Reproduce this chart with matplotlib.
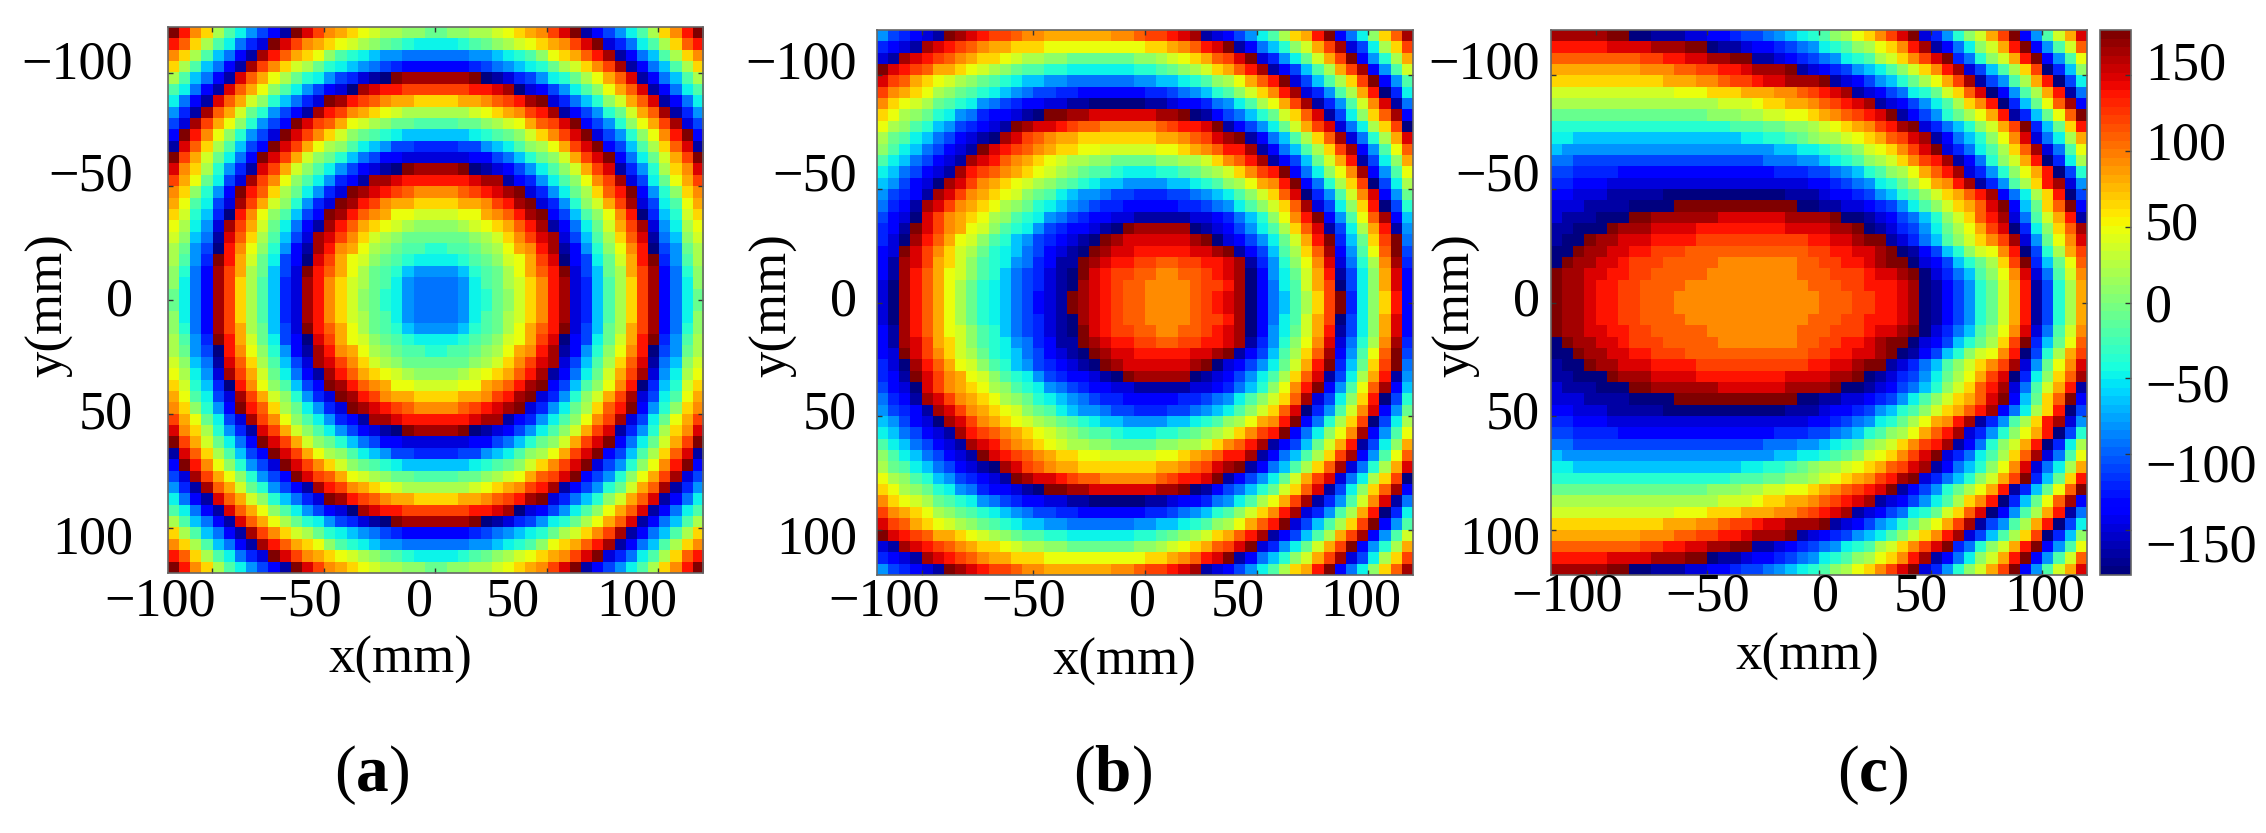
import numpy as np
import matplotlib
matplotlib.use("Agg")
import matplotlib.pyplot as plt

plt.rcParams['font.family'] = ['Liberation Serif', 'DejaVu Serif']
plt.rcParams['mathtext.fontset'] = 'custom'
plt.rcParams['mathtext.rm'] = 'Liberation Serif'
plt.rcParams['mathtext.bf'] = 'Liberation Serif:bold'

W, H = 2266, 833

# phase cells, one letter per cell: a = -180 deg ... z = +180 deg
# (a) is symmetric both ways, only the top left quadrant is listed
phase_a_quadrant = [
    "zwtroljhfd bzxvtsrqpo onnm",
    "wuroljgecz xvtsrqponm lkjj",
    "troligdbyw usrqnlkjih hggg",
    "roligdbyvt rpomkjihgf eddd",
    "oligdbxusq omkjhfecba zyyy",
    "ljgdbxusqn ljhfdcayxw wvvv",
    "jgdbxuspnk igeczywvut ssrr",
    "hebyuspmkh fdbywvtsrq pooo",
    "fcyvsqnkhf dzxvusqpon mmll",
    "dzwtqnkhfc zxvtrpnmlk jiii",
    "bxurolifdz xvsqonljih ffee",
    "zvspmjgdzx vspnmkigfd dccc",
    "xtrokhebxv spnljhfdcb azyy",
    "vsqmjfcyvt qnljhedbyy xwww",
    "trnkhdzwur omjheczyxw vutt",
    "sqljfcyvsp nkheczywvt ssrr",
    "rpkieawtqn lifdzywuts qqpp",
    "qojhcyvspm jgdbywusrq ponn",
    "pnigbxurol ifcyxvtrpo nmmm",
    "omhfawtqnk hdbywtsqon mllk",
    "olhezwspmj fdaxvsqpnm lkjj",
    "nkgdyvsomi fczwusqoml kihh",
    "njgdyvroli ecywtrpoml jhgg",
    "mjgdyvroli ecywtrpnmk jhgg",
]

# (b) and (c) mirror top to bottom, only the top half is listed
phase_b_top = [
    "hfedcbzyxw vvuttsssss sttuvvwxyb cdfhjlorsw zdgjnruy",
    "edcbyxwvut ssrrrqqqqq qqqqrrstuw xzbdgiknps vycfjorv",
    "cbyxwvutsr rqpoonnmmm mmmnnopqrs uvxzcehjmp svzdhkos",
    "zxwvussrqp onmllkkjjj jjjkklmnop rsuwybdfil osvydhlp",
    "xvusrqponm lkjiihhggg ggghhiijkl noqsuwzcfi lorvzdhl",
    "vtsrqonmlk jihgffeedd ddddeefghi klnprtwyce hloswaej",
    "trqpomlkjh gfeddccbba aaaabbcdde ghjloqsvyb ehlptxbg",
    "rqonmkjhge ddcbazzyyx xxxxxyyzab dfgikmprux bfjnruyd",
    "qonlkihfed cbzyxxwvuu tttttuvwwx zbdfhjmpsv xcgjorva",
    "omljigfdcb ayxvutssrr rrrrrsstuv xyzbdgilor uycgkosx",
    "nljigfdcbz xwvutsrrqq pppppqqrst uwwybdgilo rvydhlqu",
    "ljigfdcbyx wutsrqpoon nmmmmnnoop rtuwybdfim pswbfjns",
    "jigfdcbywv utsrqponml lkjjjkklmn oprtvwzdgj nqtydhlq",
    "ihfdcayxvt srqponmlkj iihhhhiijk lnoqstwzdg korvafjo",
    "hfedbyxvts rqpnmljihh gffeeeffgh ijlnpruxae hlptxdhm",
    "gedbyxvtsr qonmkjihgf eedddddeef ghjlnpruyc fjnrwafk",
    "fdcaxvtsrq onlkjhgfed dccbbbbbcc degiknqtwz dhlquydi",
    "edbzxvtsqp nlkjhfeddc bazyyyyyab cdfhjlorux bfjoswbh",
    "ecaywusqpn lkihfedcba zyxxxxxxyz acdfhjmpsw zeimrvzg",
    "dczxvtrpom kjigfdcbaz yxxwwwwwxx yzbdfiloru ydhlquzf",
    "dbyxvsrpnl kjhgedbbzy xwwvvuuvvw wxybehknqt xcgkotye",
    "dbywusqpnl kigfecbazx wvvuuttuuv wxyadhjmps wbfjnsxd",
    "caywusqomk jigfecbayx wvuuttttuv vwyadgjlps vafjnsxd",
    "caywusqomk jigfdcbzyx wvuuttttuv wxyadgilor vzejnrwd",
]

phase_c_top = [
    "yyyyyzzaab bbccddeffg hijklnoqrt vxzcehknps vzdhlpsx",
    "wwwwwxxxxy yyzzabbcdd efghjklnoq rtwybdgjnp swzdhlpu",
    "uuuuuuuuvv wwxxyyzzbb cdefghjklo prtvxzegkn pswzdhlq",
    "sssssssstt tuuvvwwxyy yzbcdefhij lnprtwycfi lorvaein",
    "rrrrrrrrrr sssttuvvwx xyyyzbcdfh ikmoqsvybf hloswafj",
    "pppppppppp pqqqrrrsss ttuvwxybcd fgjkmpruxa dhloswbg",
    "oooooooooo ooooopppqr rsstuvwxyb cdfhjlortw aeimquyd",
    "mmmmmmmmmm mmmmnnnoop pqqrstuvwx zbdfhkmoqs wbeimquz",
    "kkkkkkkkkk kkkkkklllm mnnopqrstv wyzcegiknp svzeimrw",
    "jjiiiiiiii iiiiiiijjk klmnoopqrs uvxybdgikn qtxcgjos",
    "ihhhhhhhhh hhhhhhhhhh iijjklmnpq rtvxzcegjl oruycglq",
    "ggffffffff fffffffffg gghhijklno prtvwybdgk npswaejo",
    "ffeeeedddd dddddddddd eeeffghikl noqsuwyceh knqswafk",
    "eedddccccc cccccccccc cccddefghj kmoqstwybe hlorwych",
    "ddcccbbbbb aaaaaaaaaa abbbcddefh iklnprsuwy dgjorwaf",
    "cccbbbbaaa azzzzzzzzz zzaabbccde fhjlnprsux zdimruzd",
    "cbbbaaazzy yyyyyxxxxx xyyyyzaabc dfgiknpruw ycglpswb",
    "bbaaazyyyx xxxwwwwwww wxxxxyyzab cefhjmoqsv xaejnruy",
    "baazyyxxxw wwwvvvvvvv vvvwwxxyzz bcegilnprt vychmqtx",
    "aazyyxxwwv vvuuuuuuuu uuuvvwwxxy zabdfiknpq twafkosv",
    "azyyxxwvvv uuuuuttttt ttuuvvwwxy zzacdfikmo rvzeimqu",
    "zyyxxwwvvu uuuutttttt ttuuuvvvwx xyzacegiln qtxcglpt",
    "zyyxwwvvuu uutttttttt tttuuuvvww wxyabdfhkm pswbfkos",
    "zyyxwwvvuu uttttttttt ttttuuuvvw wxyabdfhkm pswbfkos",
]

ticks = [-100, -50, 0, 50, 100]
tick_labels = ['\u2212100', '\u221250', '0', '50', '100']
cbar_ticks = [150, 100, 50, 0, -50, -100, -150]
cbar_labels = ['150', '100', '50', '0', '\u221250', '\u2212100', '\u2212150']
panel_names = ['a', 'b', 'c']


def decode(rows):
    return np.array([[-180 + 14.4 * (ord(c) - ord('a')) for c in r.replace(' ', '')] for r in rows])


top_left = decode(phase_a_quadrant)
phase_a = np.vstack([np.hstack([top_left, top_left[:, ::-1]]),
                     np.hstack([top_left, top_left[:, ::-1]])[::-1]])
phase_b = np.vstack([decode(phase_b_top), decode(phase_b_top)[::-1]])
phase_c = np.vstack([decode(phase_c_top), decode(phase_c_top)[::-1]])


def add_axes_px(left, top, right, bottom):
    return fig.add_axes([left / W, 1 - bottom / H, (right - left) / W, (bottom - top) / H])


def text_px(x, y, s, **kw):
    return fig.text(x / W, 1 - y / H, s, va='center', **kw)


fig = plt.figure(figsize=(W / 100, H / 100), dpi=100)
cmap = plt.get_cmap('jet', 64)

boxes = [(167.5, 27, 703, 573), (877, 30, 1413, 575), (1551, 30, 2087, 575)]
xlabel_pos = [[160, 300, 419, 513, 637], [884, 1024, 1143, 1238, 1361], [1567, 1708, 1826, 1921, 2045]]
xlabel_y = [602, 602, 597]
ylabel_y = [65, 177, 302, 415, 540]
yticks_right = [133, 857, 1540]
ymm_x = [49, 773, 1456]
xmm_pos = [(400, 660), (1124, 662), (1807, 657)]
name_pos = [(372, 775), (1112, 775), (1873, 775)]

for i, data in enumerate([phase_a, phase_b, phase_c]):
    ax = add_axes_px(*boxes[i])
    im = ax.imshow(data, cmap=cmap, vmin=-180, vmax=180, extent=[-120, 120, 120, -120],
                   aspect='auto', interpolation='nearest')
    ax.set_xticks(ticks)
    ax.set_yticks(ticks)
    ax.set_xticklabels([])
    ax.set_yticklabels([])
    ax.tick_params(direction='in', length=3.5, width=1, color='#333333', top=True, right=True)
    for s in ax.spines.values():
        s.set_color('#666666')
        s.set_linewidth(1.2)

    # the labels in the picture sit off their ticks, so they are placed by hand
    for x, lab in zip(xlabel_pos[i], tick_labels):
        text_px(x, xlabel_y[i], lab, fontsize=39, ha='center')
    for y, lab in zip(ylabel_y, tick_labels):
        text_px(yticks_right[i], y, lab, fontsize=39, ha='right')
    text_px(xmm_pos[i][0], xmm_pos[i][1], 'x(mm)', fontsize=38, ha='center')
    text_px(ymm_x[i], 305, 'y(mm)', fontsize=38, ha='center', rotation=90)
    text_px(name_pos[i][0], name_pos[i][1], r'($\mathbf{%s}$)' % panel_names[i], fontsize=47, ha='center')

cax = add_axes_px(2100, 30, 2131, 575)
cb = fig.colorbar(im, cax=cax, ticks=cbar_ticks)
cb.ax.set_yticklabels([])
cb.ax.tick_params(direction='in', length=4, width=1, color='#333333', right=True)
cb.outline.set_edgecolor('#666666')
cb.outline.set_linewidth(1.2)
for y, lab in zip([66, 146, 226, 308, 388, 468, 548], cbar_labels):
    text_px(2145, y, lab, fontsize=39, ha='left')

fig.savefig('out.png', dpi=100)
